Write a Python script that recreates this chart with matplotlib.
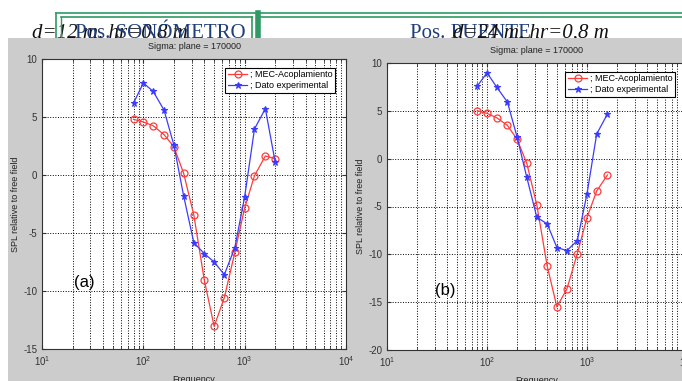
import numpy as np
import matplotlib
matplotlib.use("Agg")
import matplotlib.pyplot as plt
from matplotlib.patches import Rectangle
from matplotlib.lines import Line2D
from matplotlib.ticker import LogLocator, FixedLocator

plt.rcParams['font.family'] = ['Liberation Sans', 'DejaVu Sans']
plt.rcParams['axes.unicode_minus'] = False

# third-octave band centres (Hz)
freq_a = [80, 100, 125, 160, 200, 250, 315, 400, 500, 630, 800, 1000, 1250, 1600, 2000]
freq_b = [80, 100, 125, 160, 200, 250, 315, 400, 500, 630, 800, 1000, 1250, 1600]

mec_a = [4.8, 4.57, 4.25, 3.48, 2.44, 0.14, -3.45, -9.08, -13.05, -10.57, -6.67, -2.84, -0.06, 1.64, 1.41]
exp_a = [6.2, 7.93, 7.21, 5.6, 2.59, -1.81, -5.83, -6.78, -7.5, -8.59, -6.26, -1.87, 3.97, 5.72, 1.12]

mec_b = [5.01, 4.73, 4.28, 3.48, 2.02, -0.49, -4.84, -11.24, -15.49, -13.61, -9.92, -6.16, -3.38, -1.71]
exp_b = [7.59, 8.98, 7.48, 5.92, 2.26, -1.95, -6.13, -6.82, -9.29, -9.61, -8.56, -3.69, 2.58, 4.66]

yticks_a = [-15, -10, -5, 0, 5, 10]
yticks_b = [-20, -15, -10, -5, 0, 5, 10]

W, H = 682, 381
fig = plt.figure(figsize=(W / 100, H / 100), dpi=100)


def fx(px):
    return px / W


def fy(py):
    return 1 - py / H


# header text (partly hidden behind the grey panels)
serif = ['Liberation Serif', 'DejaVu Serif']
fig.text(fx(32), fy(38), "d=12 m, hr=0,8 m", family=serif, style='italic',
         fontsize=15, color='#111111', va='baseline', zorder=0.2)
fig.text(fx(75), fy(38), "Pos. SONÓMETRO", family=serif, fontsize=15,
         color='#1f3d7a', va='baseline', zorder=0.2)
fig.text(fx(410), fy(38), "Pos. PUENTE", family=serif, fontsize=15,
         color='#1f3d7a', va='baseline', zorder=0.2)
fig.text(fx(453), fy(38), "d=24 m, hr=0,8 m", family=serif, style='italic',
         fontsize=15, color='#111111', va='baseline', zorder=0.2)

green = '#2f9a63'
for xs, ys, lw in [((56, 682), (13, 13), 1.2), ((61, 252), (17, 17), 1.2),
                   ((260, 682), (17, 17), 1.2), ((56, 56), (13, 40), 1.2),
                   ((61, 61), (17, 40), 1.0), ((252, 252), (17, 40), 1.2),
                   ((257.5, 257.5), (13, 40), 4.0)]:
    fig.add_artist(Line2D([fx(x) for x in xs], [fy(y) for y in ys], color=green,
                          lw=lw, transform=fig.transFigure, zorder=0.3))

# grey matlab figure background
fig.add_artist(Rectangle((fx(8), 0), 1 - fx(8), fy(38), transform=fig.transFigure,
                         facecolor='#cccccc', edgecolor='none', zorder=0.5))


def panel(rect, freqs, mec, exp, yticks, ylim, legend_anchor, tag, tag_xy, title_pad):
    ax = fig.add_axes(rect)
    ax.set_zorder(2)
    ax.set_facecolor('white')
    ax.plot(freqs, mec, '-o', color='#ff3b3b', lw=0.9, ms=5, mfc='none', mew=0.9,
            label='; MEC-Acoplamiento')
    ax.plot(freqs, exp, '-*', color='#3b3bff', lw=0.9, ms=4.5, mew=0.8,
            label='; Dato experimental')
    ax.set_xscale('log')
    ax.set_xlim(10, 10000)
    ax.set_ylim(*ylim)
    ax.xaxis.set_major_locator(LogLocator(base=10))
    ax.xaxis.set_minor_locator(LogLocator(base=10, subs=np.arange(2, 10)))
    ax.yaxis.set_major_locator(FixedLocator(yticks))
    ax.grid(True, which='major', ls=':', color='black', lw=0.7)
    ax.grid(True, which='minor', axis='x', ls=':', color='black', lw=0.7)
    ax.tick_params(which='both', direction='in', labelsize=7, colors='#333333',
                   top=True, right=True)
    ax.tick_params(which='major', length=3)
    ax.tick_params(which='minor', length=2)
    for s in ax.spines.values():
        s.set_color('#333333')
        s.set_linewidth(0.8)
    ax.set_title('Sigma: plane = 170000', fontsize=6.5, color='#222222', pad=title_pad)
    ax.set_xlabel('Frequency', fontsize=6.5, color='#222222', labelpad=5)
    ax.set_ylabel('SPL relative to free field', fontsize=6.5, color='#222222', labelpad=2)
    leg = ax.legend(loc='upper right', bbox_to_anchor=legend_anchor,
                    bbox_transform=fig.transFigure, fontsize=6.5, fancybox=False,
                    framealpha=1, edgecolor='black', borderpad=0.3,
                    handlelength=2.2, handletextpad=0.3, labelspacing=0.2)
    leg.get_frame().set_linewidth(0.8)
    fig.text(fx(tag_xy[0]), fy(tag_xy[1]), tag, fontsize=12, ha='center',
             va='center', zorder=3)
    return ax


panel([fx(42), fy(349), fx(346 - 42), (349 - 59) / H], freq_a, mec_a, exp_a,
      yticks_a, (-15, 10), (fx(340), fy(63)), '(a)', (84, 283), 7.5)
panel([fx(387), fy(350), fx(687 - 387), (350 - 63) / H], freq_b, mec_b, exp_b,
      yticks_b, (-20, 10), (fx(680), fy(67)), '(b)', (445, 290), 7)

fig.savefig('out.png', dpi=100)
